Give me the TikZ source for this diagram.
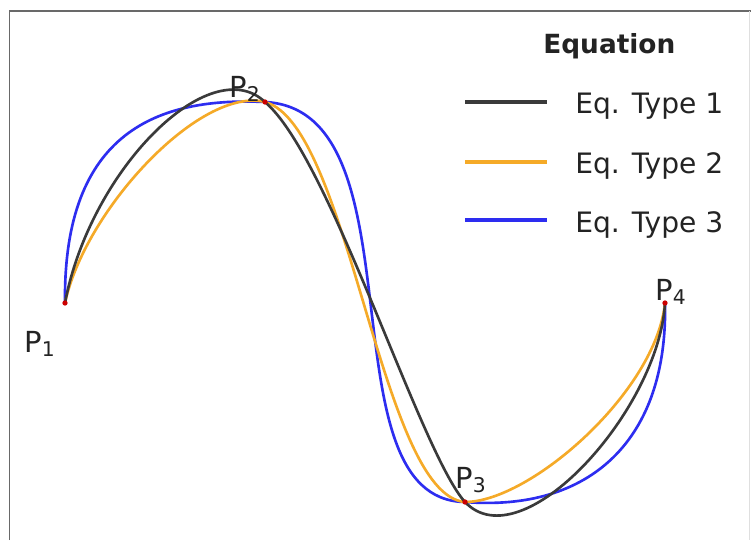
\documentclass[tikz,border=0pt]{standalone}
\usepackage{fontspec}
\setmainfont{DejaVu Sans}
\usetikzlibrary{positioning}
\definecolor{curveblack}{RGB}{58,58,58}
\definecolor{curveorange}{RGB}{245,170,40}
\definecolor{curveblue}{RGB}{45,45,240}
\definecolor{framegray}{RGB}{105,105,105}
\definecolor{textgray}{RGB}{35,35,35}

\begin{document}
\begin{tikzpicture}[x=0.2mm, y=-0.2mm,
  curve/.style={line width=1.5pt, line join=round, line cap=round},
  key/.style={line width=2.3pt},
  keytext/.style={anchor=base west, inner sep=0pt, text=textgray,
                  font=\fontsize{16}{16}\selectfont},
  ptlabel/.style={anchor=base west, inner sep=0pt, text=textgray,
                  font=\fontsize{16.5}{17}\selectfont},
  ptdot/.style={fill=red!80!black}
]
\useasboundingbox (0,0) rectangle (751,540);
\fill[white] (0,0) rectangle (751,540);
\draw[framegray, line width=1.1pt] (9.5,540) |- (751,11);
\draw[gray!25, line width=0.6pt] (749.5,11) -- (749.5,540);

\coordinate (P1) at (65,303);
\coordinate (P2) at (265,102);
\coordinate (P3) at (465,502);
\coordinate (P4) at (665,303);

\draw[curve, curveblue] (P1) .. controls (63,130) and (160,97) .. (P2)
  .. controls (425,110) and (320,500) .. (P3)
  .. controls (590,512) and (668,440) .. (P4);
\draw[curve, curveorange] (P1) .. controls (85,210) and (200,86) .. (P2)
  .. controls (350,125) and (380,495) .. (P3)
  .. controls (530,502) and (656,392) .. (P4);
\draw[curve, curveblack] (P1) .. controls (90,170) and (210,50) .. (P2)
  .. controls (330,157) and (420,452) .. (P3)
  .. controls (522,562) and (659,410) .. (P4);

\foreach \p in {P1,P2,P3,P4}
  \fill[ptdot] (\p) circle (1.5pt);

\node[ptlabel] (p1lab) at (24,352) {P\textsubscript{1}};
\node[ptlabel] (p2lab) at (229,97) {P\textsubscript{2}};
\node[ptlabel] (p3lab) at (455,488) {P\textsubscript{3}};
\node[ptlabel] (p4lab) at (655,300) {P\textsubscript{4}};

\node[keytext, font=\fontsize{15}{15}\selectfont\bfseries] (legtitle) at (543,53) {Equation};
\node[keytext] (type1) at (575,113) {Eq. Type 1};
\node[keytext] (type2) at (575,173) {Eq. Type 2};
\node[keytext] (type3) at (575,232) {Eq. Type 3};

\draw[key, curveblack] (465,102) -- (547,102);
\draw[key, curveorange] (465,162) -- (547,162);
\draw[key, curveblue] (465,220) -- (547,220);
\end{tikzpicture}
\end{document}
